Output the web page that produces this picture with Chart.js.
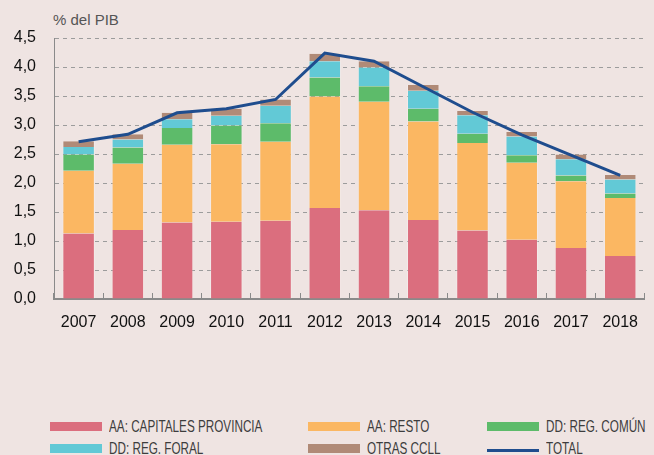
<!DOCTYPE html>
<html>
<head>
<meta charset="utf-8">
<script src="https://cdn.jsdelivr.net/npm/chart.js@4"></script>
<style>
    body { margin: 0; background: #efe4e2; overflow: hidden; width: 654px; height: 455px; position: relative; font-family: 'Liberation Sans', Arial, sans-serif; }
    #wrap { position: absolute; left: 0; top: 0; width: 658px; height: 345px; }
    #unit { position: absolute; left: 53px; top: 11px; font-size: 15px; color: #555; }
    .lg { position: absolute; height: 18px; display: flex; align-items: center; }
    .sw { width: 52px; height: 9px; flex: none; }
    .sw.line { height: 3px; margin-top: 4px; }
    .tx { font-size: 16.5px; color: #3d3d3d; transform: scaleX(0.71); transform-origin: left center; white-space: nowrap; margin-left: 7px; }
</style>
</head>
<body>
<div id="unit">% del PIB</div>
<div id="wrap"><canvas id="chart" width="658" height="345"></canvas></div>
<div id="legend"></div>
<script>
// Data (% del PIB)
const years = ['2007', '2008', '2009', '2010', '2011', '2012', '2013', '2014', '2015', '2016', '2017', '2018'];
const capitales = [1.13, 1.19, 1.32, 1.33, 1.35, 1.57, 1.53, 1.36, 1.18, 1.02, 0.88, 0.74];
const resto     = [1.08, 1.14, 1.34, 1.34, 1.36, 1.92, 1.87, 1.70, 1.51, 1.33, 1.15, 1.00];
const regComun  = [0.28, 0.28, 0.29, 0.32, 0.32, 0.33, 0.27, 0.22, 0.16, 0.13, 0.10, 0.08];
const regForal  = [0.13, 0.14, 0.15, 0.17, 0.30, 0.28, 0.32, 0.31, 0.32, 0.32, 0.28, 0.24];
const otras     = [0.10, 0.09, 0.11, 0.12, 0.11, 0.13, 0.11, 0.10, 0.07, 0.08, 0.08, 0.08];
const total     = [2.71, 2.84, 3.21, 3.28, 3.44, 4.24, 4.10, 3.66, 3.22, 2.83, 2.48, 2.13];
const yTicks    = [0, 0.5, 1, 1.5, 2, 2.5, 3, 3.5, 4, 4.5];

const seriesNames = ['AA: CAPITALES PROVINCIA', 'AA: RESTO', 'DD: REG. COMÚN', 'DD: REG. FORAL', 'OTRAS CCLL', 'TOTAL'];
const seriesColors = ['#db6e7e', '#fbb762', '#5dbb6a', '#62c9d6', '#b08a77', '#1f4d8e'];

const barSeries = [capitales, resto, regComun, regForal, otras];

const datasets = barSeries.map((values, i) => ({
    type: 'bar',
    label: seriesNames[i],
    data: values,
    backgroundColor: seriesColors[i],
    borderColor: 'rgba(255,255,255,0.25)',
    borderWidth: { left: 1, right: 1 },
    borderSkipped: false,
    categoryPercentage: 1,
    barPercentage: 0.66,
    stack: 'bars',
    order: 1
}));

datasets.push({
    type: 'line',
    label: seriesNames[5],
    data: total,
    borderColor: seriesColors[5],
    borderWidth: 3,
    pointRadius: 0,
    tension: 0,
    fill: false,
    stack: 'line',
    order: 0
});

const gridGray = '#9c9c9c';

new Chart(document.getElementById('chart'), {
    data: { labels: years, datasets: datasets },
    options: {
        responsive: false,
        animation: false,
        layout: { padding: { top: 38, right: 0, bottom: 0, left: 0 } },
        plugins: { legend: { display: false }, tooltip: { enabled: false } },
        scales: {
            x: {
                stacked: true,
                grid: { display: true, drawOnChartArea: false, drawTicks: true, tickLength: -6, offset: true, color: '#8a8a8a', tickWidth: 1 },
                border: { display: true, color: '#8a8a8a', width: 2 },
                ticks: { color: '#111', font: { family: "'Liberation Sans', Arial, sans-serif", size: 16 }, padding: 20, maxRotation: 0 },
                afterFit: (scale) => { scale.height = 46; }
            },
            y: {
                stacked: true,
                min: 0,
                max: 4.5,
                afterBuildTicks: (scale) => { scale.ticks = yTicks.map(v => ({ value: v })); },
                ticks: {
                    color: '#111',
                    font: { family: "'Liberation Sans', Arial, sans-serif", size: 16 },
                    padding: 18,
                    callback: (v) => v.toFixed(1).replace('.', ',')
                },
                grid: { color: gridGray, drawTicks: false, lineWidth: 1 },
                border: { display: true, color: '#8a8a8a', width: 1, dash: [4, 4] },
                afterFit: (scale) => { scale.width = 54; }
            }
        }
    }
});

// HTML legend, three columns
const legendCols = [50, 308, 487];
const legendRows = [417.5, 439.5];
const legend = document.getElementById('legend');
seriesNames.forEach((name, i) => {
    const item = document.createElement('div');
    item.className = 'lg';
    item.style.left = legendCols[i % 3] + 'px';
    item.style.top = legendRows[Math.floor(i / 3)] + 'px';
    const sw = document.createElement('div');
    sw.className = i === 5 ? 'sw line' : 'sw';
    sw.style.background = seriesColors[i];
    const tx = document.createElement('span');
    tx.className = 'tx';
    tx.textContent = name;
    item.appendChild(sw);
    item.appendChild(tx);
    legend.appendChild(item);
});
</script>
</body>
</html>
